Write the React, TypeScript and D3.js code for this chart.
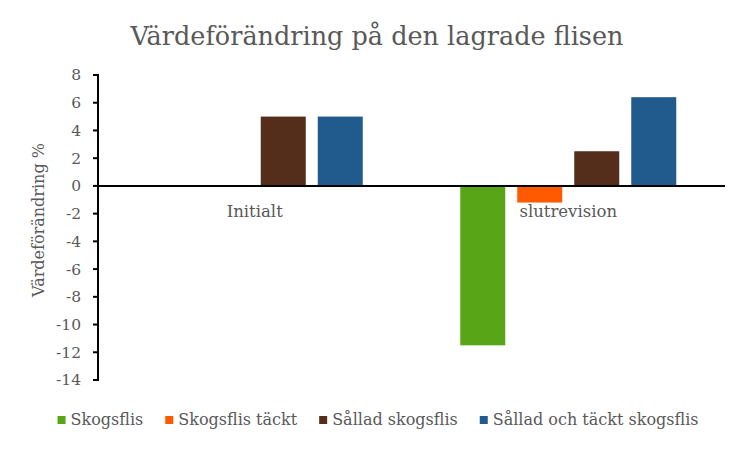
import React from "react";
import * as d3 from "d3";

const categories = ["Initialt", "slutrevision"];
const seriesNames = ["Skogsflis", "Skogsflis täckt", "Sållad skogsflis", "Sållad och täckt skogsflis"];
const seriesColors = ["#58A618", "#FF5A00", "#542E1A", "#215A8C"];
const skogsflis = [0, -11.5];
const skogsflisTackt = [0, -1.2];
const salladSkogsflis = [5.0, 2.5];
const salladTacktSkogsflis = [5.0, 6.4];
const yTicks = [8, 6, 4, 2, 0, -2, -4, -6, -8, -10, -12, -14];

const seriesValues = [skogsflis, skogsflisTackt, salladSkogsflis, salladTacktSkogsflis];

const FONT = "'DejaVu Serif', Georgia, serif";

function measure(text: string, size: number): number {
  if (typeof document === "undefined") return text.length * size * 0.55;
  const c = document.createElement("canvas");
  const ctx = c.getContext("2d");
  if (!ctx) return text.length * size * 0.55;
  ctx.font = `${size}px 'DejaVu Serif'`;
  return ctx.measureText(text).width;
}

export default function App() {
  const W = 750, H = 450;
  const left = 98, right = 725, top = 75, bottom = 380;
  const y = d3.scaleLinear().domain([-14, 8]).range([bottom, top]);
  const x0 = d3.scaleBand<string>().domain(categories).range([left, right]).padding(0);
  const bw = x0.bandwidth();
  const groupW = 216;
  const x1 = d3.scaleBand<string>().domain(seriesNames)
    .range([(bw - groupW) / 2, (bw + groupW) / 2]).paddingInner(12 / 57).paddingOuter(0);
  const y0 = y(0);

  const legendSize = 16;
  const sq = 8, sqGap = 5, itemGap = 22;
  const widths = seriesNames.map((s) => measure(s, legendSize));
  const total = widths.reduce((a, w) => a + sq + sqGap + w, 0) + itemGap * (seriesNames.length - 1);
  let cx = 378 - total / 2;
  const legendPos = widths.map((w) => {
    const p = cx;
    cx += sq + sqGap + w + itemGap;
    return p;
  });

  return (
    <svg width={W} height={H} style={{ position: "absolute", left: 0, top: 0 }}>
      <rect width={W} height={H} fill="#fff" />
      <text x={377} y={45} textAnchor="middle" fontFamily={FONT} fontSize={25.5} fill="#595959">
        Värdeförändring på den lagrade flisen
      </text>
      {categories.map((c, ci) =>
        seriesNames.map((s, si) => {
          const v = seriesValues[si][ci];
          if (v === 0) return null;
          return (
            <rect key={c + s} x={(x0(c) as number) + (x1(s) as number)} width={x1.bandwidth()}
              y={Math.min(y(v), y0)} height={Math.abs(y(v) - y0)} fill={seriesColors[si]} />
          );
        })
      )}
      <line x1={left} x2={right} y1={y0} y2={y0} stroke="#000" strokeWidth={2} />
      <line x1={left} x2={left} y1={top - 1} y2={bottom + 1} stroke="#000" strokeWidth={2} />
      {yTicks.map((t) => (
        <g key={t}>
          <line x1={left - 5} x2={left} y1={y(t)} y2={y(t)} stroke="#000" strokeWidth={2} />
          <text x={left - 17} y={y(t)} dy="0.35em" textAnchor="end" fontFamily={FONT} fontSize={15.5} fill="#595959">
            {t}
          </text>
        </g>
      ))}
      {categories.map((c) => (
        <text key={c} x={(x0(c) as number) + bw / 2} y={217} textAnchor="middle" fontFamily={FONT} fontSize={16.5} fill="#595959">
          {c}
        </text>
      ))}
      <text transform={`translate(38,${220}) rotate(-90)`} textAnchor="middle" dy="0.35em"
        fontFamily={FONT} fontSize={16} fill="#595959">
        Värdeförändring %
      </text>
      {seriesNames.map((s, i) => (
        <g key={s}>
          <rect x={legendPos[i]} y={416} width={sq} height={sq} fill={seriesColors[i]} />
          <text x={legendPos[i] + sq + sqGap} y={425} fontFamily={FONT} fontSize={legendSize} fill="#595959">
            {s}
          </text>
        </g>
      ))}
    </svg>
  );
}
